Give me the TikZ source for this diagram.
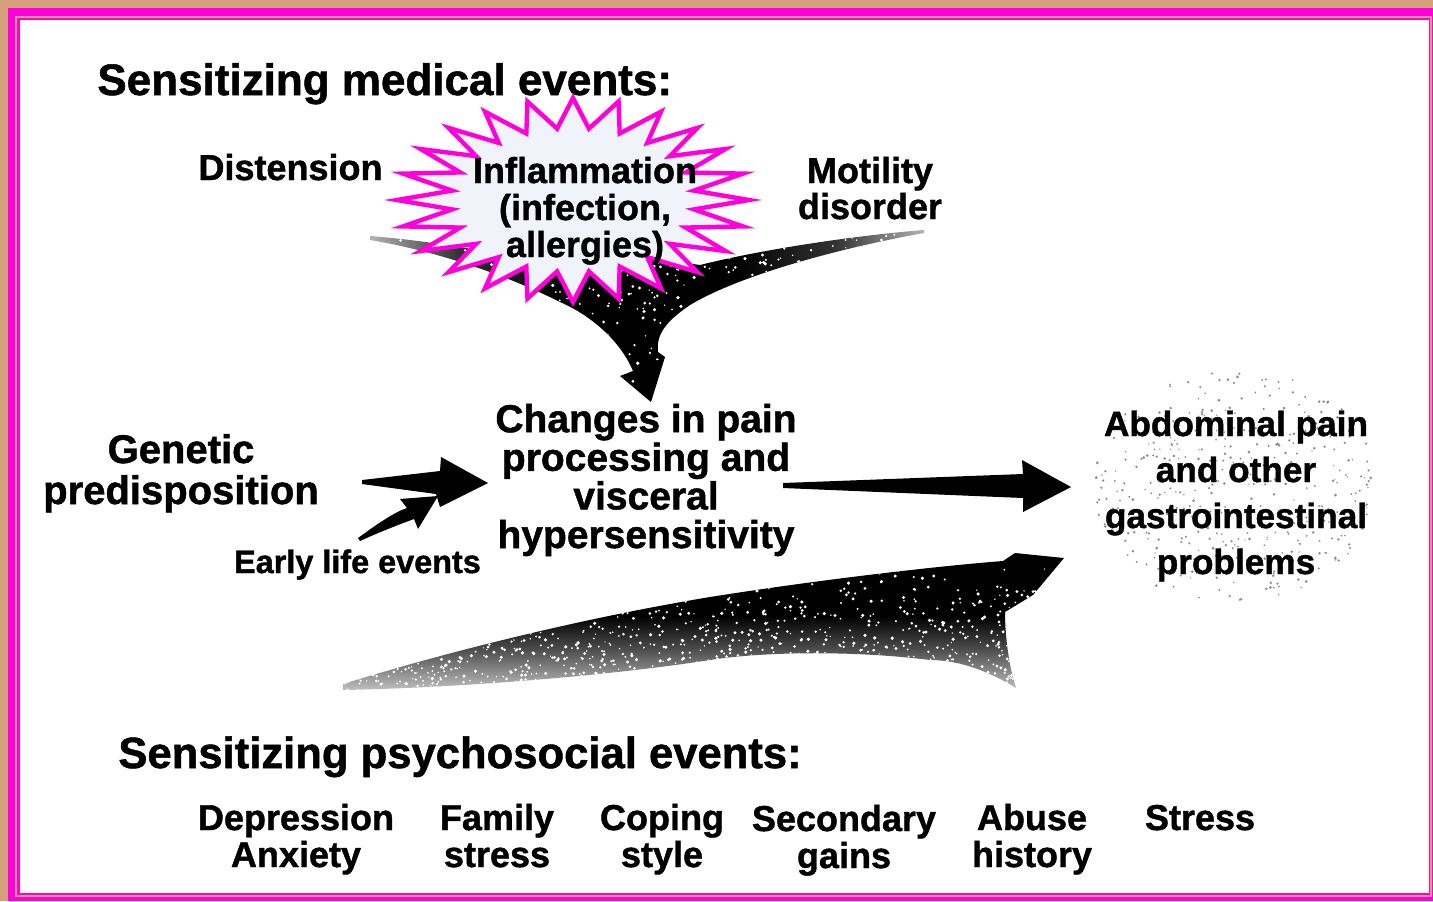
\documentclass[tikz,border=0pt]{standalone}
\usepackage{fontspec}
\setmainfont{Liberation Sans}[BoldFeatures={FakeBold=1.2}]
\definecolor{mag}{RGB}{255,0,220}
\definecolor{tanb}{RGB}{212,160,122}
\definecolor{starfill}{RGB}{240,244,250}
\newcommand\myfs[2]{\fontsize{#1}{#2}\selectfont\bfseries}
\pgfdeclarehorizontalshading{yshade}{100bp}{color(0bp)=(black!30); color(25bp)=(black!30);
  color(33bp)=(black!80); color(42bp)=(black); color(58bp)=(black); color(67bp)=(black!80);
  color(75bp)=(black!30); color(100bp)=(black!30)}
\pgfdeclareverticalshading{bshade}{100bp}{color(0bp)=(black!25); color(25bp)=(black!25);
  color(40bp)=(black!70); color(52bp)=(black); color(100bp)=(black)}
\tikzset{
  lbl/.style={inner sep=0pt, align=center, text=black, anchor=base},
  medfont/.style={font=\myfs{18}{18.5}},
  bigarrow/.style={fill=black},
  starline/.style={draw=mag, fill=starfill, line width=2.2pt, line join=miter},
  grain/.style={fill=white}
}
\def\yarrowpath{(370,236) .. controls (420,240) and (470,248) .. (520,258) -- (630,255)
  -- (700,265) .. controls (760,250) and (850,236) .. (924,230)
  -- (924,233) .. controls (840,248) and (740,275) .. (690,305)
  .. controls (665,322) and (656,335) .. (658,352) -- (665,357) -- (651,402)
  -- (620,376) -- (633,371) .. controls (620,340) and (590,315) .. (560,302)
  .. controls (500,272) and (430,250) .. (370,240) -- cycle}
\def\barrowpath{(343,684) .. controls (420,660) and (560,622) .. (710,597)
  .. controls (830,578) and (950,565) .. (1003,561) -- (1015,553) -- (1064,558)
  -- (1033,595) -- (1005,612) .. controls (1005,640) and (1010,670) .. (1016,688)
  .. controls (990,672) and (960,660) .. (930,660)
  .. controls (850,650) and (760,652) .. (710,660)
  .. controls (600,677) and (450,688) .. (343,690) -- cycle}
\begin{document}
\begin{tikzpicture}[x=0.5pt,y=-0.5pt]
\useasboundingbox (0,0) rectangle (1433,901);
% frame
\fill[tanb] (0,0) rectangle (1433,901);
\fill[mag] (8,8) rectangle (1433,901);
\draw[tanb, line width=1pt] (15.5,16.5) rectangle (1431,896);
\fill[white] (19.5,20) rectangle (1428.5,893);

\pgfmathsetseed{11}
% converging arrow from medical events
\path[shading=yshade] \yarrowpath;
\begin{scope}
  \clip \yarrowpath;
  \foreach \i in {1,...,700}{
    \pgfmathsetmacro\gx{370+554*rnd}
    \pgfmathsetmacro\gy{228+176*rnd}
    \fill[grain] (\gx,\gy) circle ({0.7+1.1*rnd});
  }
\end{scope}

% starburst
\path[starline] plot[samples at={0,7.5,...,352.5}, variable=\t]
  ({573+cos(\t)*(149+27*cos(24*\t))}, {200+sin(\t)*(87+15*cos(24*\t))}) -- cycle;

% genetic predisposition arrow
\fill[bigarrow] (362,480) -- (440,471) -- (441,457) -- (488,483) -- (440,507)
  -- (436,494) -- (362,484) -- cycle;
% early life events arrow
\fill[bigarrow] (358,538) .. controls (380,522) and (395,512) .. (407,508) -- (400,499)
  -- (438,496) -- (418,529) -- (414,519) .. controls (395,526) and (375,534) .. (360,541) -- cycle;
% central arrow to outcome
\fill[bigarrow] (783,483) -- (1023,474) -- (1022,460) -- (1071,487) -- (1023,512)
  -- (1023,498) -- (783,488) -- cycle;
% psychosocial arrow
\path[shading=bshade] \barrowpath;
\begin{scope}
  \clip \barrowpath;
  \foreach \i in {1,...,1300}{
    \pgfmathsetmacro\gx{343+721*rnd}
    \pgfmathsetmacro\gy{552+140*sqrt(rnd)}
    \fill[grain] (\gx,\gy) circle ({0.7+1.1*rnd});
  }
\end{scope}

% speckle cloud behind outcome
\foreach \i in {1,...,420}{
  \pgfmathsetmacro\ang{rnd*360}
  \pgfmathsetmacro\rr{sqrt(rnd)}
  \fill[black!45] ({1236+142*\rr*cos(\ang)},{488+118*\rr*sin(\ang)}) circle ({0.7+0.8*rnd});
}

% texts
\node[lbl, font=\myfs{22}{26}, anchor=base west] (t1) at (97,95) {Sensitizing medical events:};
\node[lbl, medfont] (dist) at (290.5,180) {Distension};
\node[lbl, medfont] (infl) at (585,257) {Inflammation\\(infection,\\allergies)};
\node[lbl, font=\myfs{18}{18}] (mot) at (870,219) {Motility\\disorder};
\node[lbl, font=\myfs{19.5}{19.3}] (chg) at (646,548) {Changes in pain\\processing and\\visceral\\hypersensitivity};
\node[lbl, font=\myfs{20}{20.5}] (gen) at (181,504) {Genetic\\predisposition};
\node[lbl, font=\myfs{16.2}{18}] (early) at (357.5,573) {Early life events};
\node[lbl, font=\myfs{17.6}{23}] (abd) at (1236,574) {Abdominal pain\\and other\\gastrointestinal\\problems};
\node[lbl, font=\myfs{21.8}{26}, anchor=base west] (t2) at (118,768) {Sensitizing psychosocial events:};
\node[lbl, medfont] (dep) at (296,867) {Depression\\Anxiety};
\node[lbl, medfont] (fam) at (497,867) {Family\\stress};
\node[lbl, medfont] (cop) at (662,867) {Coping\\style};
\node[lbl, medfont] (sec) at (844,868) {Secondary\\gains};
\node[lbl, medfont] (abu) at (1032,867) {Abuse\\history};
\node[lbl, medfont] (str) at (1200,830) {Stress};
\end{tikzpicture}
\end{document}
